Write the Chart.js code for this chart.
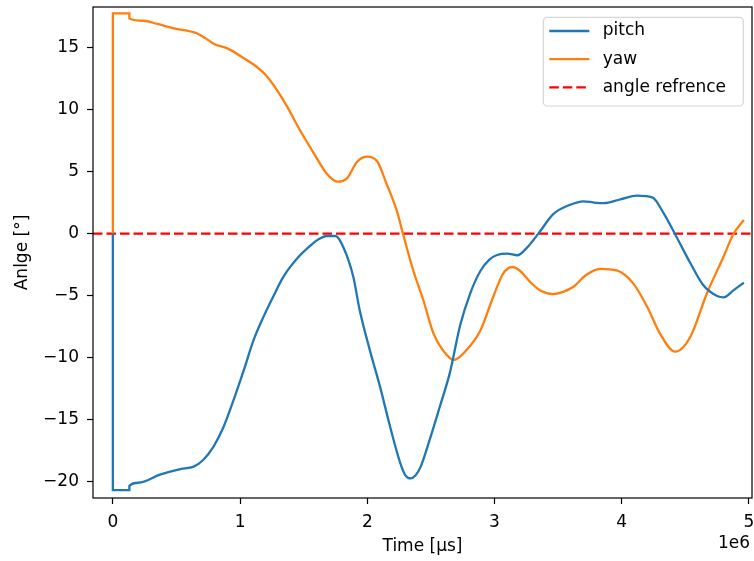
<!DOCTYPE html>
<html>
<head>
<meta charset="utf-8">
<title>pitch / yaw</title>
<script src="https://cdn.jsdelivr.net/npm/chart.js@4.4.1/dist/chart.umd.min.js"></script>
<style>
  html, body { margin: 0; padding: 0; background: #fff; }
  canvas { display: block; }
</style>
</head>
<body>
<canvas id="mycanvas" width="754" height="561"></canvas>
<script>
// time in microseconds
var pitchTime = [0, 1, 130000, 130001, 200000, 370000, 530000, 635000, 710000, 790000, 870000, 950000,
	1030000, 1106000, 1185000, 1260000, 1340000, 1450000, 1550000, 1620000, 1680000, 1750000, 1810000,
	1890000, 1940000, 2020000, 2100000, 2180000, 2260000, 2300000, 2340000, 2380000, 2420000, 2490000,
	2570000, 2650000, 2730000, 2810000, 2890000, 2960000, 3020000, 3100000, 3180000, 3250000, 3300000,
	3360000, 3460000, 3590000, 3700000, 3780000, 3860000, 3990000, 4120000, 4240000, 4330000, 4430000,
	4540000, 4640000, 4750000, 4800000, 4880000, 4960000];
var pitch = [0, -20.7, -20.7, -20.35, -20.1, -19.45, -19.0, -18.8, -18.27, -17.2, -15.6, -13.4,
	-11.0, -8.6, -6.7, -5.1, -3.5, -2.0, -1.0, -0.45, -0.2, -0.2, -1.06,
	-3.48, -6.17, -9.4, -12.35, -15.6, -18.53, -19.5, -19.75, -19.5, -18.8, -16.65,
	-13.97, -11.2, -7.4, -4.8, -3.0, -2.1, -1.73, -1.62, -1.75, -1.2, -0.6,
	0.2, 1.55, 2.3, 2.6, 2.5, 2.45, 2.76, 3.05, 2.92, 1.63, -0.26,
	-2.4, -4.15, -5.04, -5.15, -4.56, -3.97];

var yawTime = [0, 1, 130000, 130001, 240000, 350000, 480000, 660000, 730000, 800000, 900000, 1030000,
	1130000, 1200000, 1290000, 1370000, 1470000, 1580000, 1680000, 1770000, 1840000, 1920000, 2000000,
	2080000, 2150000, 2230000, 2280000, 2360000, 2440000, 2520000, 2600000, 2680000, 2780000, 2890000,
	2990000, 3070000, 3140000, 3200000, 3280000, 3360000, 3460000, 3540000, 3620000, 3720000, 3830000,
	3960000, 4090000, 4200000, 4300000, 4420000, 4540000, 4670000, 4800000, 4880000, 4960000];
var yaw = [0, 17.75, 17.75, 17.35, 17.16, 16.9, 16.55, 16.15, 15.74, 15.26, 14.93, 14.13,
	13.45, 12.8, 11.57, 10.23, 8.35, 6.47, 4.85, 4.18, 4.45, 5.79, 6.2,
	5.79, 4.05, 1.9, 0, -2.94, -5.36, -8.05, -9.5, -10.2, -9.4, -7.8,
	-5.1, -3.2, -2.7, -3.0, -3.9, -4.6, -4.88, -4.7, -4.29, -3.35, -2.85,
	-2.98, -4.02, -5.9, -8.05, -9.53, -8.32, -4.82, -1.87, 0, 1.09];

var angleRef = 0;
var xLimits = [-156000, 5024000];
var yLimits = [-21.33, 18.27];
var xTicks = [0, 1000000, 2000000, 3000000, 4000000, 5000000];
var yTicks = [-20, -15, -10, -5, 0, 5, 10, 15];

function pairs(xs, ys) {
	var out = [];
	for (var i in xs) {
		out.push({ x: xs[i], y: ys[i] });
	}
	return out;
}

Chart.defaults.font.family = "'DejaVu Sans', sans-serif";
Chart.defaults.font.size = 17;
Chart.defaults.color = '#000';

// box around the axes, the 1e6 offset label and the legend
var framePlugin = {
	id: 'frame',
	afterDraw: function(chart) {
		var c = chart.ctx, a = chart.chartArea;
		c.save();
		c.strokeStyle = '#000';
		c.lineWidth = 1.2;
		c.strokeRect(a.left, a.top, a.right - a.left, a.bottom - a.top);

		c.font = "17px 'DejaVu Sans'";
		c.fillStyle = '#000';
		c.textAlign = 'right';
		c.textBaseline = 'middle';
		c.fillText('1e6', a.right - 2, 544);

		// legend
		var lx = a.right - 208.7, ly = a.top + 10.3, lw = 200, lh = 88.7;
		c.beginPath();
		c.roundRect(lx, ly, lw, lh, 4);
		c.fillStyle = 'rgba(255,255,255,0.8)';
		c.fill();
		c.strokeStyle = '#d6d6d6';
		c.lineWidth = 1.2;
		c.stroke();
		c.textAlign = 'left';
		chart.data.datasets.forEach(function(ds, i) {
			var y = ly + 13.7 + i * 28.2;
			c.beginPath();
			c.strokeStyle = ds.borderColor;
			c.lineWidth = ds.borderWidth;
			c.setLineDash(ds.borderDash || []);
			c.moveTo(lx + 6, y);
			c.lineTo(lx + 46, y);
			c.stroke();
			c.setLineDash([]);
			c.fillStyle = '#000';
			c.fillText(ds.label, lx + 59.4, y);
		});
		c.restore();
	}
};

var chartdata = {
	datasets: [
		{
			label: 'pitch',
			data: pairs(pitchTime, pitch),
			borderColor: '#1f77b4',
			borderWidth: 2.3,
			cubicInterpolationMode: 'monotone'
		},
		{
			label: 'yaw',
			data: pairs(yawTime, yaw),
			borderColor: '#ff7f0e',
			borderWidth: 2.3,
			cubicInterpolationMode: 'monotone'
		},
		{
			label: 'angle refrence',
			data: pairs(xLimits, [angleRef, angleRef]),
			borderColor: '#ff0000',
			borderWidth: 2.3,
			borderDash: [9.5, 4]
		}
	]
};

var ctx = document.getElementById('mycanvas');

var lineGraph = new Chart(ctx, {
	type: 'line',
	data: chartdata,
	plugins: [framePlugin],
	options: {
		responsive: false,
		animation: false,
		devicePixelRatio: 1,
		layout: { padding: { top: 7, right: 2, left: 0, bottom: 0 } },
		elements: { point: { radius: 0 } },
		plugins: {
			legend: { display: false },
			tooltip: { enabled: false }
		},
		scales: {
			x: {
				type: 'linear',
				min: xLimits[0],
				max: xLimits[1],
				afterBuildTicks: function(scale) {
					scale.ticks = xTicks.map(function(v) { return { value: v }; });
				},
				afterFit: function(scale) {
					scale.height = 63;
					scale.paddingLeft = 0;
					scale.paddingRight = 0;
				},
				ticks: {
					padding: 8,
					maxRotation: 0,
					callback: function(v) { return String(v / 1000000); }
				},
				grid: {
					drawOnChartArea: false,
					drawTicks: true,
					tickLength: 6,
					tickColor: '#000',
					tickWidth: 1.2
				},
				border: { display: false },
				title: {
					display: true,
					text: 'Time [µs]',
					padding: { top: 0, bottom: 4 }
				}
			},
			y: {
				type: 'linear',
				min: yLimits[0],
				max: yLimits[1],
				afterBuildTicks: function(scale) {
					scale.ticks = yTicks.map(function(v) { return { value: v }; });
				},
				afterFit: function(scale) {
					scale.width = 93;
					scale.paddingTop = 0;
					scale.paddingBottom = 0;
				},
				ticks: {
					padding: 8,
					callback: function(v) { return v < 0 ? '\u2212' + Math.abs(v) : String(v); }
				},
				grid: {
					drawOnChartArea: false,
					drawTicks: true,
					tickLength: 6,
					tickColor: '#000',
					tickWidth: 1.2
				},
				border: { display: false },
				title: {
					display: true,
					text: 'Anlge [°]',
					padding: 12
				}
			}
		}
	}
});
</script>
</body>
</html>
